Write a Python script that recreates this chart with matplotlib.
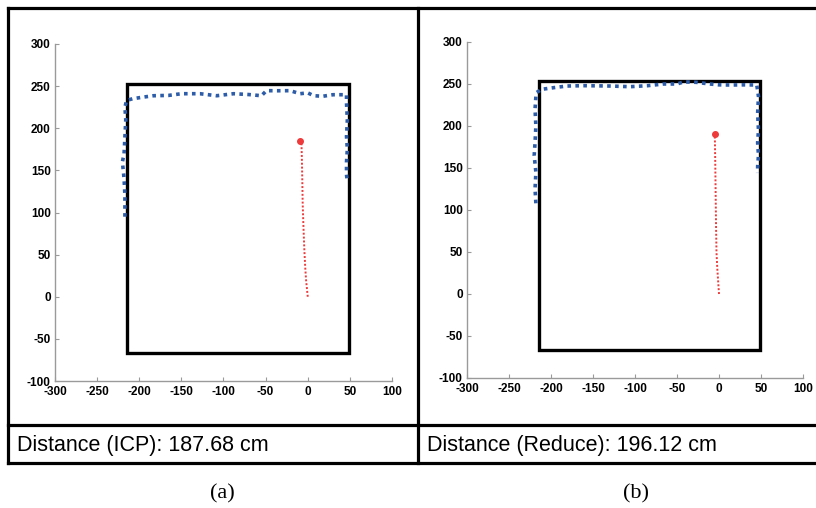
import matplotlib
matplotlib.use("Agg")
import matplotlib.pyplot as plt
from matplotlib.lines import Line2D
from matplotlib.patches import Rectangle

plt.rcParams['font.family'] = ['Liberation Sans', 'DejaVu Sans']
plt.rcParams['axes.unicode_minus'] = False

"================================================================="
# Data

# room outline (same for both runs)
room_x = [-214, 49]
room_y = [-67, 253]

# (a) ICP - wall scan
icp_scan_x = [-217, -217, -218, -220, -218, -217, -216, -217, -215, -208, -195, -183, -165, -150, -128, -108, -88,
              -70, -55, -49, -35, -21, -9, 0, 7, 18, 30, 46, 46, 47, 46, 47, 46, 46, 47]
icp_scan_y = [95, 120, 140, 160, 170, 190, 210, 225, 233, 235, 237, 238.6, 239, 241, 241, 238.6, 241,
              240, 238.6, 244.6, 244.5, 244.6, 241, 242, 238.6, 238, 239.8, 239.8, 230, 210, 190, 175, 160, 145, 136]
icp_path_x = [0, -1, -2, -3, -4, -5, -6, -6.5, -7, -7.5]
icp_path_y = [0, 10, 20, 35, 55, 80, 110, 140, 165, 183]
icp_end = (-9, 185)

# (b) Reduce - wall scan
red_scan_x = [-218, -219, -218, -220, -219, -218, -219, -218, -217, -211, -197, -181, -160, -130, -106, -85, -66,
              -50, -42, -27, -11, 0, 13, 30, 45, 47, 46, 47, 46, 47, 46, 46]
red_scan_y = [108, 125, 145, 165, 180, 200, 220, 235, 240, 243.7, 245.6, 247.6, 248, 247.6, 246.8, 248, 250,
              250, 252.5, 252, 250, 249, 248.8, 249, 248.8, 235, 215, 195, 180, 165, 152, 144]
red_path_x = [0, -1, -2, -3, -3.5, -4, -4.5, -5]
red_path_y = [0, 15, 30, 50, 80, 120, 160, 190]
red_end = (-5, 191)

ticks = [-300, -250, -200, -150, -100, -50, 0, 50, 100]
yticks = [-100, -50, 0, 50, 100, 150, 200, 250, 300]

labels = ["Distance (ICP): 187.68 cm", "Distance (Reduce): 196.12 cm"]
captions = ["(a)", "(b)"]

"================================================================="
# Figure

W, H = 816, 508
fig = plt.figure(figsize=(W / 100, H / 100), dpi=100)


def fx(px):
    return px / W


def fy(py):
    return 1 - py / H


def draw_panel(ax, scan_x, scan_y, path_x, path_y, end):
    ax.add_patch(Rectangle((room_x[0], room_y[0]), room_x[1] - room_x[0], room_y[1] - room_y[0],
                           fill=False, ec="black", lw=2.4, zorder=2))
    ax.plot(scan_x, scan_y, color="#2d5ca8", lw=2.6, linestyle=(0, (1, 1.2)), zorder=3)
    ax.plot(path_x, path_y, color="#ee3a3a", lw=1.4, linestyle=(0, (1, 1)), zorder=3)
    ax.plot([end[0]], [end[1]], "o", color="#ee3a3a", ms=4, zorder=4)
    ax.set_xlim(-300, 100)
    ax.set_ylim(-100, 300)
    ax.set_xticks(ticks)
    ax.set_yticks(yticks)
    for s in ["top", "right"]:
        ax.spines[s].set_visible(False)
    for s in ["left", "bottom"]:
        ax.spines[s].set_color("#9a9a9a")
        ax.spines[s].set_linewidth(1.0)
    ax.tick_params(direction="in", length=3, color="#9a9a9a", labelsize=8.5)
    ax.tick_params(axis="x", pad=3.5)
    ax.tick_params(axis="y", pad=3)
    for t in ax.get_xticklabels() + ax.get_yticklabels():
        t.set_fontweight("bold")


ax1 = fig.add_axes([fx(55), fy(381), fx(392 - 55), (381 - 44) / H])
draw_panel(ax1, icp_scan_x, icp_scan_y, icp_path_x, icp_path_y, icp_end)

ax2 = fig.add_axes([fx(467), fy(378), fx(803 - 467), (378 - 42) / H])
draw_panel(ax2, red_scan_x, red_scan_y, red_path_x, red_path_y, red_end)

"================================================================="
# Panel frames

lw = 2.3
frame = [
    ([8, 816], [8, 8]),
    ([8, 816], [425, 425]),
    ([8, 816], [463, 463]),
    ([8, 8], [8, 463]),
    ([418, 418], [8, 463]),
]
for xs, ys in frame:
    fig.add_artist(Line2D([fx(v) for v in xs], [fy(v) for v in ys], color="black", lw=lw,
                          transform=fig.transFigure, solid_capstyle="projecting"))

fig.text(fx(17), fy(445), labels[0], fontsize=15.5, va="center", ha="left")
fig.text(fx(427), fy(445), labels[1], fontsize=15.5, va="center", ha="left")

fig.text(fx(222), fy(494), captions[0], fontsize=16, va="center", ha="center", family="Liberation Serif")
fig.text(fx(636), fy(494), captions[1], fontsize=16, va="center", ha="center", family="Liberation Serif")

fig.savefig("out.png", dpi=100)
